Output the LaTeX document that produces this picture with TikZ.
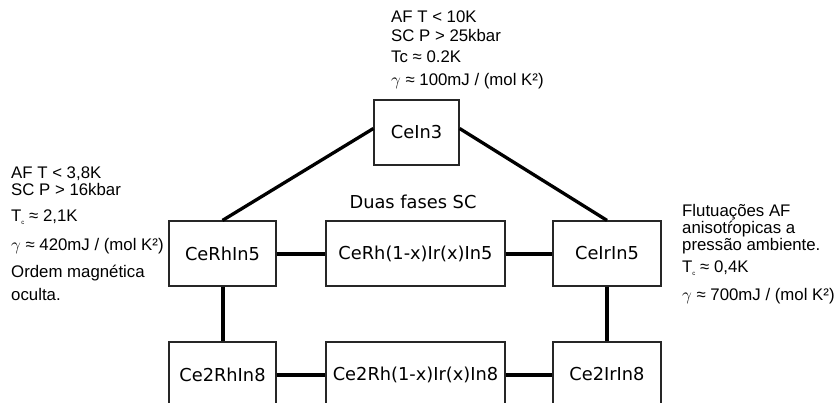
\documentclass[tikz,border=0pt]{standalone}
\usepackage{fontspec}
\setmainfont{Liberation Sans}
\newfontfamily\boxfont{DejaVu Sans}
\usetikzlibrary{positioning}
\newcommand{\Tsubc}{T\raisebox{-3pt}{\fontsize{6}{6}\selectfont c}}

\begin{document}
\begin{tikzpicture}[x=1pt,y=-1pt,
        compound/.style={draw=black!85, line width=1.2pt, minimum height=65pt, inner sep=0pt, font=\boxfont\fontsize{17.8}{20}\selectfont},
        note/.style={anchor=north west, inner sep=0pt, align=left, font=\fontsize{16.8}{17}\selectfont},
        link/.style={line width=4pt},
        diag/.style={line width=3.3pt}
    ]
        \useasboundingbox (0,0) rectangle (834,403);
        \clip (0,0) rectangle (834,403);

        \node[compound, minimum width=85pt] (cein3) at (416.5,132.5) {CeIn3};
        \node[compound, minimum width=107pt] (cerhin5) at (222.5,253.5) {CeRhIn5};
        \node[compound, minimum width=179pt] (mix5) at (415.5,253.5) {CeRh(1-x)Ir(x)In5};
        \node[compound, minimum width=108pt] (ceirin5) at (607,253.5) {CeIrIn5};
        \node[compound, minimum width=107pt] (ce2rhin8) at (222.5,374.5) {Ce2RhIn8};
        \node[compound, minimum width=179pt] (mix8) at (415.5,374.5) {Ce2Rh(1-x)Ir(x)In8};
        \node[compound, minimum width=108pt] (ce2irin8) at (607,374.5) {Ce2IrIn8};

        \node[font=\boxfont\fontsize{17.8}{20}\selectfont] (twophases) at (413,202) {Duas fases SC};

        \node[note] (cein3note) at (391,11) {
            AF T < 10K\\[2pt]
            SC P > 25kbar\\[4pt]
            Tc ≈ 0.2K\\[6pt]
            $\gamma$ ≈ 100mJ / (mol K²)
        };
        \node[note] (cerhnote) at (11,166.5) {
            AF T < 3,8K\\
            SC P > 16kbar\\[9pt]
            \Tsubc{} ≈ 2,1K\\[12pt]
            $\gamma$ ≈ 420mJ / (mol K²)\\[10pt]
            Ordem magnética\\[6pt]
            oculta.
        };
        \node[note] (ceirnote) at (682,204.5) {
            Flutuações AF\\
            anisotŕopicas a\\
            pressão ambiente.\\[5pt]
            \Tsubc{} ≈ 0,4K\\[11pt]
            $\gamma$ ≈ 700mJ / (mol K²)
        };

        \draw[diag] ([yshift=4pt]cein3.west) -- (cerhin5.north);
        \draw[diag] ([yshift=4pt]cein3.east) -- (ceirin5.north);
        \draw[link] (cerhin5) -- (mix5);
        \draw[link] (mix5) -- (ceirin5);
        \draw[link] (ce2rhin8) -- (mix8);
        \draw[link] (mix8) -- (ce2irin8);
        \draw[link] (cerhin5) -- (ce2rhin8);
        \draw[link] (ceirin5) -- (ce2irin8);
    \end{tikzpicture}
\end{document}
